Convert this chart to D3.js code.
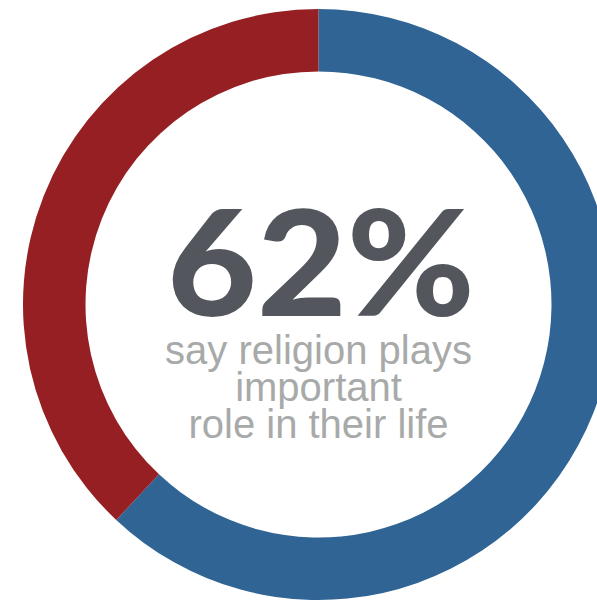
<!DOCTYPE html>
<html>
<head>
<meta charset="utf-8">
<script src="https://cdn.jsdelivr.net/npm/d3@7"></script>
<style>
  html, body { margin: 0; padding: 0; background: #ffffff; }
  svg { display: block; }
</style>
</head>
<body>
<svg id="chart" width="597" height="601"></svg>
<script>
// ---- data ----
const categories = ["Important", "Not important"];
const values = [62, 38];
const colors = ["#2f6494", "#951f22"];
const headline = "62%";
const subtitleLines = ["say religion plays", "important", "role in their life"];

// ---- layout ----
const cx = 318.5, cy = 304.5;
const outerR = 295.5, innerR = 233;

const svg = d3.select("#chart");
const g = svg.append("g").attr("transform", `translate(${cx},${cy})`);

const data = categories.map((c, i) => ({ category: c, value: values[i] }));

const pie = d3.pie()
  .sort(null)
  .value(d => d.value)
  .startAngle(0)
  .endAngle(2 * Math.PI);

const arc = d3.arc().innerRadius(innerR).outerRadius(outerR);

const color = d3.scaleOrdinal().domain(categories).range(colors);

g.selectAll("path.slice")
  .data(pie(data))
  .join("path")
  .attr("class", "slice")
  .attr("d", arc)
  .attr("fill", d => color(d.data.category));

// headline
g.append("text")
  .attr("x", 2.5)
  .attr("y", 315.5 - cy)
  .attr("text-anchor", "middle")
  .attr("font-family", "Lato, Inter, sans-serif")
  .attr("font-weight", 900)
  .attr("font-size", 146)
  .attr("fill", "#53575d")
  .attr("textLength", 308)
  .attr("lengthAdjust", "spacingAndGlyphs")
  .text(headline);

// subtitle
const baselines = [364, 401, 438];
g.selectAll("text.sub")
  .data(subtitleLines)
  .join("text")
  .attr("class", "sub")
  .attr("x", 0)
  .attr("y", (d, i) => baselines[i] - cy)
  .attr("text-anchor", "middle")
  .attr("font-family", "'Liberation Sans', Arial, sans-serif")
  .attr("font-size", 40)
  .attr("fill", "#a7aaa9")
  .text(d => d);
</script>
</body>
</html>
